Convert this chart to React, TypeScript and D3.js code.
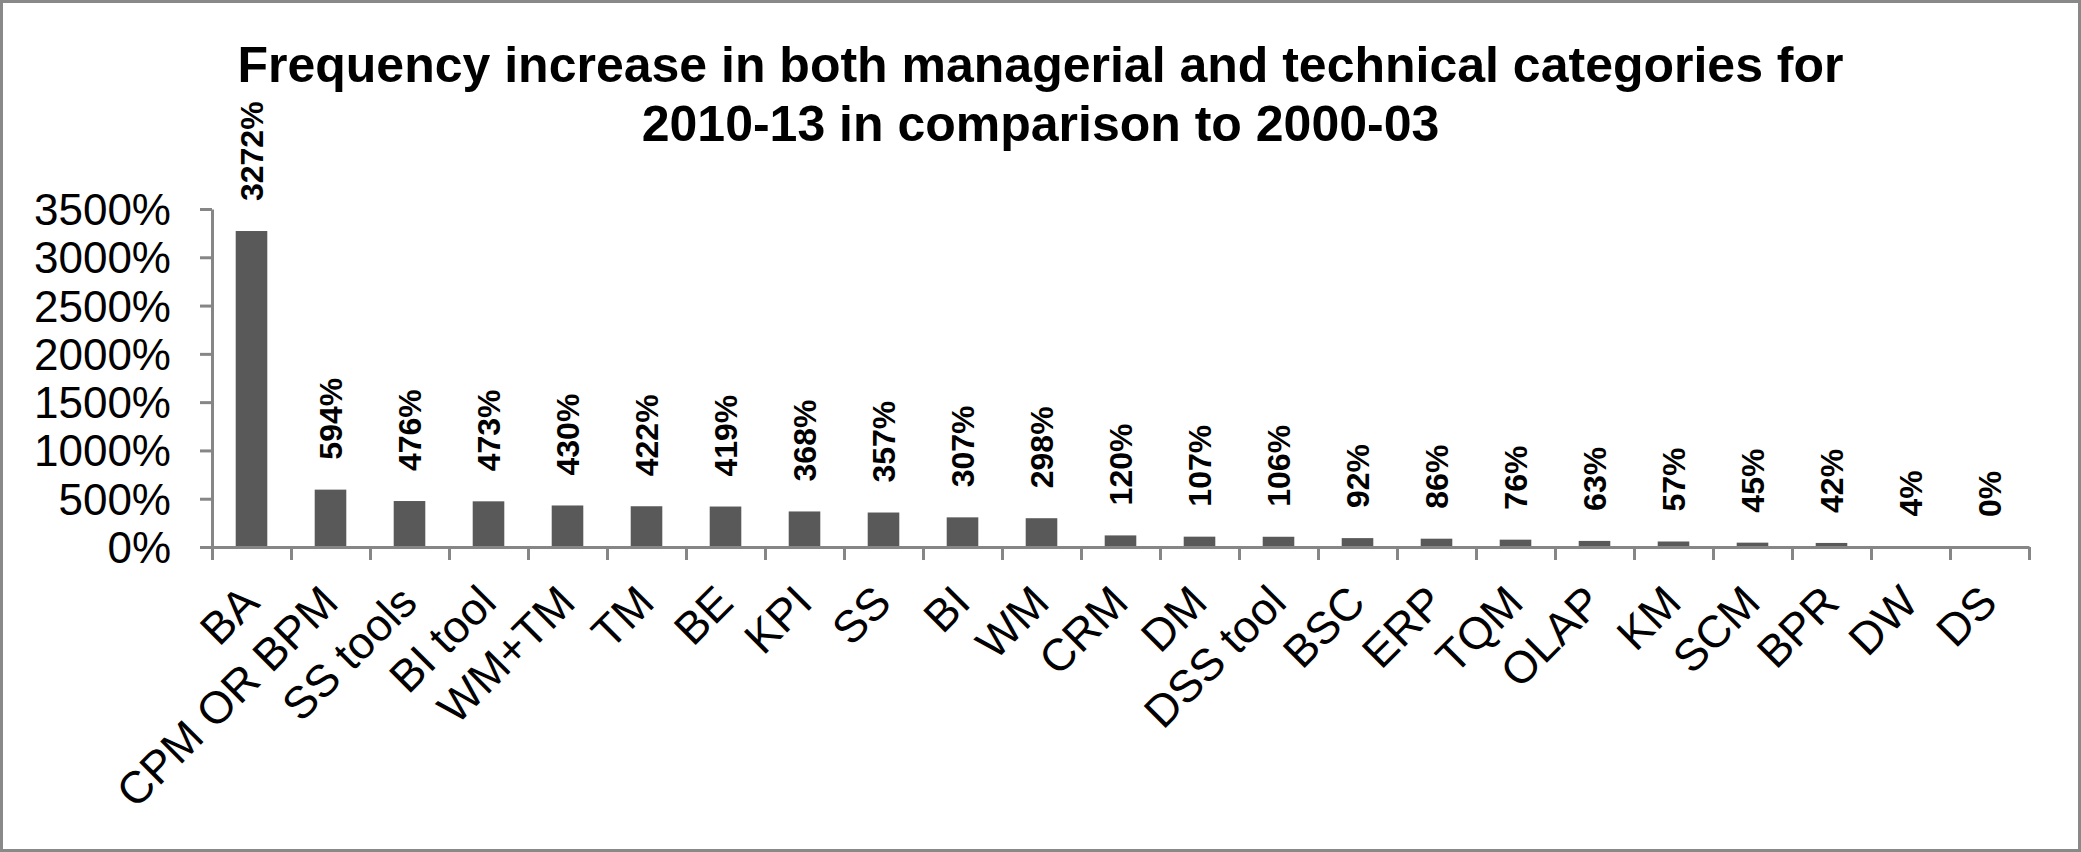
import React, { useRef, useEffect } from 'react'
import * as d3 from 'd3'

// chart data
const categories = ['BA', 'CPM OR BPM', 'SS tools', 'BI tool', 'WM+TM', 'TM', 'BE', 'KPI', 'SS', 'BI', 'WM',
  'CRM', 'DM', 'DSS tool', 'BSC', 'ERP', 'TQM', 'OLAP', 'KM', 'SCM', 'BPR', 'DW', 'DS']
const increase = [3272, 594, 476, 473, 430, 422, 419, 368, 357, 307, 298,
  120, 107, 106, 92, 86, 76, 63, 57, 45, 42, 4, 0]
const yTicks = [0, 500, 1000, 1500, 2000, 2500, 3000, 3500]
const titleLines = ['Frequency increase in both managerial and technical categories for', '2010-13 in comparison to 2000-03']

const W = 2081
const H = 852
const FONT = "'Liberation Sans', Arial, sans-serif"
const AXIS = '#868686'

const App = () => {
  const svgRef = useRef<SVGSVGElement>(null)

  useEffect(() => {
    const svg = d3.select(svgRef.current)
    svg.selectAll('*').remove()

    const left = 212, right = 2029, top = 209, bottom = 547

    const x = d3.scaleBand().domain(categories).range([left, right]).paddingInner(0.6).paddingOuter(0.3)
    const xEdge = d3.scaleLinear().domain([0, categories.length]).range([left, right])
    const y = d3.scaleLinear().domain([0, 3500]).range([bottom, top])

    // frame
    svg.append('rect')
      .attr('x', 1.5).attr('y', 1.5).attr('width', W - 3).attr('height', H - 3)
      .attr('fill', '#fff').attr('stroke', '#898989').attr('stroke-width', 3)

    // title
    svg.append('g').selectAll('text')
      .data(titleLines)
      .join('text')
      .attr('x', W / 2)
      .attr('y', (d, i) => 82 + i * 59)
      .attr('text-anchor', 'middle')
      .attr('font-family', FONT)
      .attr('font-weight', 'bold')
      .attr('font-size', 50)
      .text(d => d)

    // bars
    svg.append('g').selectAll('rect')
      .data(increase)
      .join('rect')
      .attr('x', (d, i) => x(categories[i]))
      .attr('y', d => y(d))
      .attr('width', x.bandwidth())
      .attr('height', d => y(0) - y(d))
      .attr('fill', '#595959')

    // value labels
    svg.append('g').selectAll('text')
      .data(increase)
      .join('text')
      .attr('transform', (d, i) => `translate(${x(categories[i]) + x.bandwidth() / 2},${y(d) - 30}) rotate(-90)`)
      .attr('dominant-baseline', 'central')
      .attr('font-family', FONT)
      .attr('font-weight', 'bold')
      .attr('font-size', 32)
      .text(d => d + '%')

    // y axis
    const yAxis = svg.append('g')
      .attr('transform', `translate(${left},0)`)
      .call(d3.axisLeft(y).tickValues(yTicks).tickSize(12).tickSizeOuter(0).tickFormat(d => d + '%'))
    yAxis.select('.domain').attr('stroke', AXIS).attr('stroke-width', 3)
    yAxis.selectAll('.tick line').attr('stroke', AXIS).attr('stroke-width', 3)
    yAxis.selectAll('.tick text')
      .attr('x', -41)
      .attr('dy', null)
      .attr('dominant-baseline', 'central')
      .attr('fill', '#000')
      .attr('font-family', FONT)
      .attr('font-size', 44)

    // x axis, ticks between categories
    const xAxis = svg.append('g')
      .attr('transform', `translate(0,${bottom})`)
      .call(d3.axisBottom(xEdge).tickValues(d3.range(categories.length + 1)).tickSize(13).tickSizeOuter(0).tickFormat(() => ''))
    xAxis.select('.domain').attr('stroke', AXIS).attr('stroke-width', 3)
    xAxis.selectAll('.tick line').attr('stroke', AXIS).attr('stroke-width', 3)

    // category labels
    svg.append('g').selectAll('text')
      .data(categories)
      .join('text')
      .attr('transform', d => `translate(${x(d) + x.bandwidth() / 2 + 10},${bottom + 58}) rotate(-45)`)
      .attr('text-anchor', 'end')
      .attr('font-family', FONT)
      .attr('font-size', 45)
      .text(d => d)
  }, [])

  return (
    <svg ref={svgRef} width={W} height={H} style={{ position: 'absolute', left: 0, top: 0 }} />
  )
}

export default App
